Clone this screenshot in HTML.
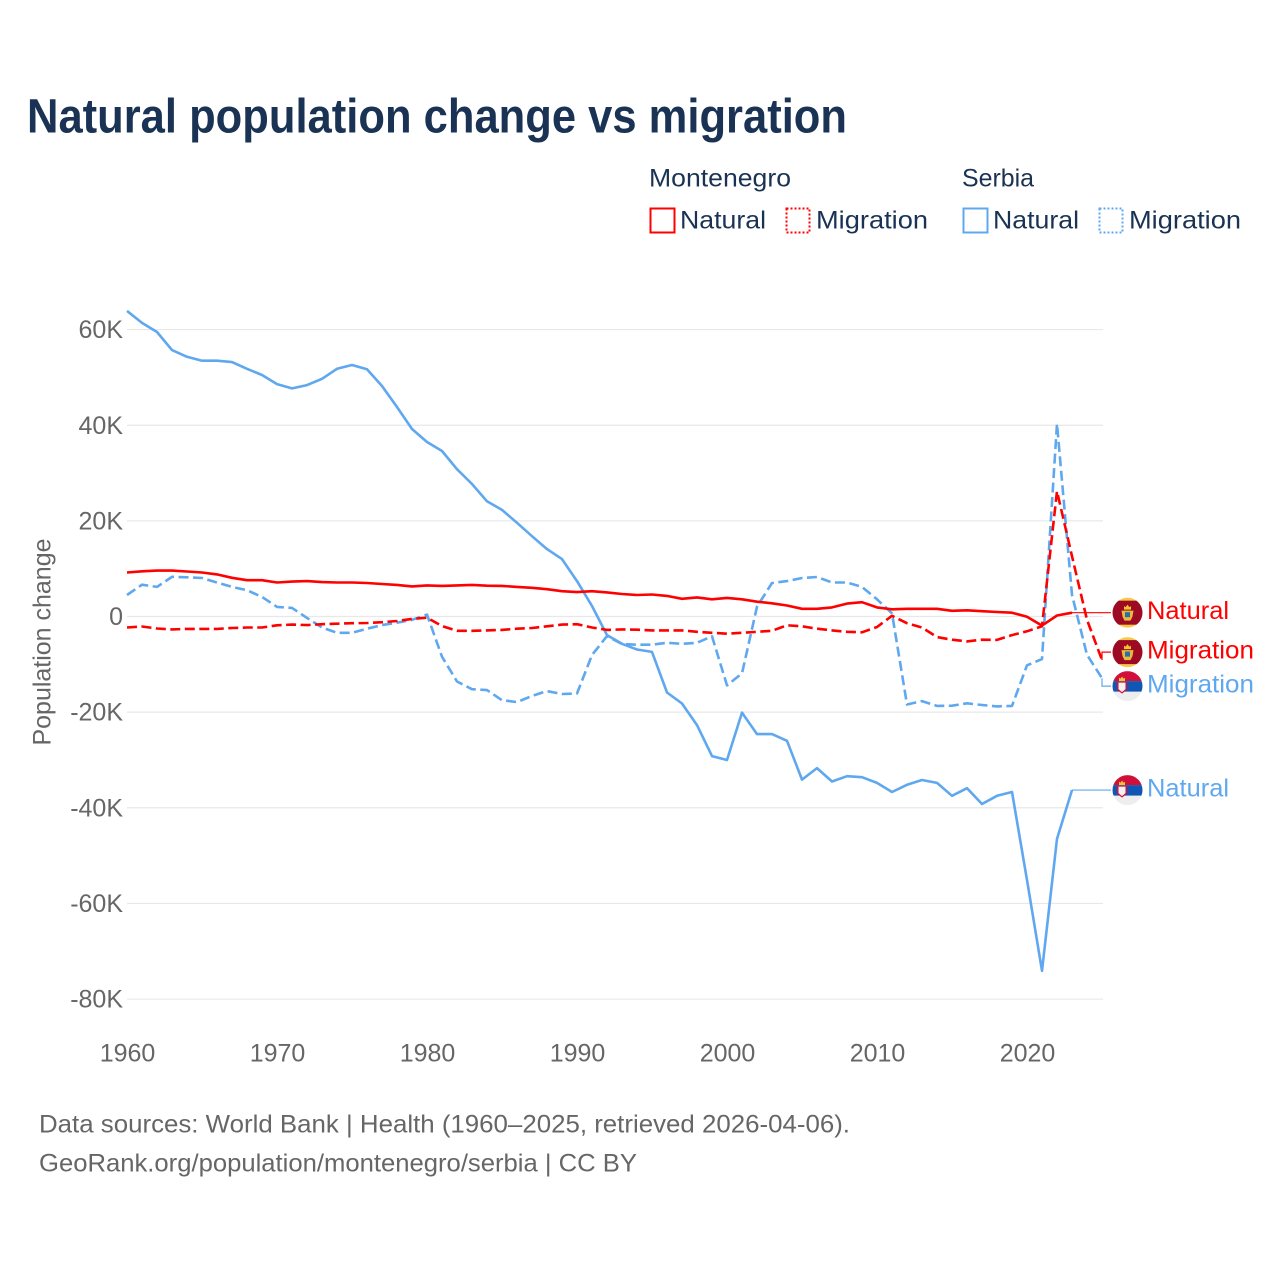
<!DOCTYPE html>
<html lang="en">
<head>
<meta charset="utf-8">
<title>Natural population change vs migration</title>
<style>
html,body{margin:0;padding:0;background:#fff;}
svg{display:block;}
text{font-family:"Liberation Sans",sans-serif;}
</style>
</head>
<body>
<svg id="chart" xmlns="http://www.w3.org/2000/svg" width="1280" height="1280" viewBox="0 0 1280 1280">
<rect x="0" y="0" width="1280" height="1280" fill="#fff"/>
<text x="27" y="132.5" font-size="48" font-weight="700" fill="#1a3354" textLength="820" lengthAdjust="spacingAndGlyphs">Natural population change vs migration</text>

<g fill="#1a3354" font-size="25">
<text x="649" y="186.5" textLength="142" lengthAdjust="spacingAndGlyphs">Montenegro</text>
<text x="962" y="186.5" textLength="72" lengthAdjust="spacingAndGlyphs">Serbia</text>
<rect x="650.5" y="208.5" width="24" height="24" fill="none" stroke="#ff0000" stroke-width="2"/>
<text x="680" y="228.5" textLength="86" lengthAdjust="spacingAndGlyphs">Natural</text>
<rect x="786.5" y="208.5" width="23" height="24" fill="none" stroke="#ff0000" stroke-width="2" stroke-dasharray="2 2"/>
<text x="816" y="228.5" textLength="112" lengthAdjust="spacingAndGlyphs">Migration</text>
<rect x="963.5" y="208.5" width="24" height="24" fill="none" stroke="#5fa8ef" stroke-width="2"/>
<text x="993" y="228.5" textLength="86" lengthAdjust="spacingAndGlyphs">Natural</text>
<rect x="1099.5" y="208.5" width="23" height="24" fill="none" stroke="#5fa8ef" stroke-width="2" stroke-dasharray="2 2"/>
<text x="1129" y="228.5" textLength="112" lengthAdjust="spacingAndGlyphs">Migration</text>
</g>

<text transform="translate(50.5 745.5) rotate(-90)" font-size="25" fill="#666" textLength="207" lengthAdjust="spacingAndGlyphs">Population change</text>

<g id="grid"></g>
<g id="yticks"></g>
<g id="xticks"></g>
<g id="series"></g>
<g id="labels"></g>

<g font-size="25" fill="#666">
<text x="39" y="1132.5" textLength="811" lengthAdjust="spacingAndGlyphs">Data sources: World Bank | Health (1960–2025, retrieved 2026-04-06).</text>
<text x="39" y="1171.5" textLength="598" lengthAdjust="spacingAndGlyphs">GeoRank.org/population/montenegro/serbia | CC BY</text>
</g>
</svg>

<script>
const startYear = 1960;
const yTickValues = [60, 40, 20, 0, -20, -40, -60, -80];
const yTickLabels = ["60K", "40K", "20K", "0", "-20K", "-40K", "-60K", "-80K"];
const xTickYears = [1960, 1970, 1980, 1990, 2000, 2010, 2020];

// Values in thousands, one per year from 1960
const montenegroNatural = [9.2,9.45,9.6,9.6,9.4,9.2,8.8,8.1,7.6,7.6,7.1,7.3,7.4,7.2,7.1,7.1,7.0,6.8,6.6,6.3,6.5,6.4,6.5,6.6,6.45,6.4,6.2,6.0,5.7,5.3,5.1,5.3,5.05,4.7,4.5,4.6,4.3,3.7,4.0,3.6,3.9,3.6,3.1,2.75,2.3,1.6,1.6,1.9,2.7,3.0,1.9,1.5,1.6,1.6,1.6,1.2,1.3,1.1,0.95,0.8,-0.05,-1.9,0.2,0.8];
const montenegroMigration = [-2.3,-2.1,-2.5,-2.7,-2.6,-2.6,-2.6,-2.4,-2.3,-2.3,-1.85,-1.7,-1.8,-1.6,-1.5,-1.4,-1.35,-1.2,-0.95,-0.5,-0.25,-2,-3,-3,-2.9,-2.8,-2.55,-2.4,-2.05,-1.7,-1.6,-2.3,-2.8,-2.7,-2.75,-2.9,-2.9,-2.9,-3.2,-3.4,-3.6,-3.4,-3.2,-3,-1.85,-2.05,-2.55,-2.9,-3.2,-3.3,-2.2,0.15,-1.4,-2.3,-4.3,-4.85,-5.2,-4.85,-4.9,-3.9,-3.1,-2.05,26.2,12.6,-0.7,-9.1];
const serbiaNatural = [63.9,61.4,59.5,55.7,54.3,53.5,53.5,53.2,51.8,50.5,48.6,47.7,48.4,49.7,51.8,52.6,51.7,48.2,43.8,39.2,36.5,34.6,30.8,27.7,24.1,22.3,19.6,16.8,14.1,12,7.4,2.2,-3.9,-5.7,-6.9,-7.4,-15.9,-18.2,-22.7,-29.2,-30,-20.1,-24.6,-24.6,-26,-34.1,-31.7,-34.5,-33.4,-33.6,-34.8,-36.7,-35.2,-34.2,-34.8,-37.5,-35.9,-39.2,-37.5,-36.7,-55.1,-74.1,-46.5,-36.3];
const serbiaMigration = [4.5,6.65,6.2,8.3,8.2,8.05,7.1,6.2,5.5,4.1,2,1.8,-0.3,-2.3,-3.4,-3.4,-2.55,-1.8,-1.3,-0.7,0.4,-8.4,-13.6,-15.2,-15.4,-17.5,-17.9,-16.6,-15.6,-16.2,-16.1,-8.05,-4.1,-5.75,-5.9,-5.9,-5.5,-5.7,-5.5,-4.15,-14.4,-11.9,2.05,7,7.4,8.05,8.25,7.1,7.1,6.2,3.6,0.65,-18.4,-17.7,-18.7,-18.65,-18.15,-18.5,-18.8,-18.7,-10.2,-8.9,40.3,4.5,-8,-12.9];

const RED = "#ff0000";
const BLUE = "#5fa8ef";
const NS = "http://www.w3.org/2000/svg";

function xScale(year) { return 127 + (year - 1960) * 15; }
function yScale(v) { return 616.5 - v * 4.782; }

function make(tag, attrs, parent) {
  const el = document.createElementNS(NS, tag);
  for (const k in attrs) el.setAttribute(k, attrs[k]);
  parent.appendChild(el);
  return el;
}

const grid = document.getElementById("grid");
const yticks = document.getElementById("yticks");
yTickValues.forEach(function (v, i) {
  const line = make("line", { x1: 127, x2: 1103, y1: yScale(v), y2: yScale(v), stroke: "#e8e8e8", "stroke-width": 1.2 }, grid);
  
  
  const t = make("text", { x: 123, y: yScale(v) + 8.6, "text-anchor": "end", "font-size": 25, fill: "#666" }, yticks);
  
  
  t.textContent = yTickLabels[i];
});

const xticks = document.getElementById("xticks");
xTickYears.forEach(function (year) {
  const t = make("text", { x: xScale(year) + 0.5, y: 1061.5, "text-anchor": "middle", "font-size": 25, fill: "#666" }, xticks);
  
  
  t.textContent = year;
});

function pathFor(values) {
  return values.map(function (v, i) {
    return (i ? "L" : "M") + xScale(startYear + i).toFixed(1) + " " + yScale(v).toFixed(1);
  }).join("");
}

const seriesGroup = document.getElementById("series");
function drawSeries(values, color, dashed) {
  const p = make("path", { d: pathFor(values), fill: "none", stroke: color, "stroke-width": 2.6, "stroke-linejoin": "round" }, seriesGroup);
  if (dashed) p.setAttribute("stroke-dasharray", "10 4.5");
  return p;
}
const lineSN = drawSeries(serbiaNatural, BLUE, false);


const lineSM = drawSeries(serbiaMigration, BLUE, true);


const lineMN = drawSeries(montenegroNatural, RED, false);


const lineMM = drawSeries(montenegroMigration, RED, true);



/* End labels: connector from the last point to a flag + label, pushed apart when close */
const endItems = [
  { values: montenegroNatural, color: RED, text: "Natural", flag: "me", width: 82 },
  { values: montenegroMigration, color: RED, text: "Migration", flag: "me", width: 107 },
  { values: serbiaMigration, color: BLUE, text: "Migration", flag: "rs", width: 107 },
  { values: serbiaNatural, color: BLUE, text: "Natural", flag: "rs", width: 82 }
];
endItems.forEach(function (d) {
  d.endX = xScale(startYear + d.values.length - 1);
  d.endY = yScale(d.values[d.values.length - 1]);
  d.labelY = d.endY;
});
const minGap = 34;
endItems.sort(function (a, b) { return a.endY - b.endY; });
for (let i = 1; i < endItems.length; i++) {
  const gap = endItems[i].labelY - endItems[i - 1].labelY;
  if (gap < minGap) {
    const shift = (minGap - gap) / 2;
    endItems[i - 1].labelY -= shift;
    endItems[i].labelY += shift;
  }
}

function drawFlag(parent, kind, cx, cy) {
  const clipId = "clip-" + kind + "-" + Math.round(cy);
  const defs = make("defs", {}, parent);
  const cp = make("clipPath", { id: clipId }, defs);
  make("circle", { cx: cx, cy: cy, r: 15 }, cp);
  const g = make("g", { "clip-path": "url(#" + clipId + ")" }, parent);
  if (kind === "me") {
    make("rect", { x: cx - 15, y: cy - 15, width: 30, height: 30, fill: "#f7c948" }, g);
    make("rect", { x: cx - 15, y: cy - 12, width: 30, height: 24, fill: "#9c0a24" }, g);
    make("path", { d: "M" + (cx - 3.5) + " " + (cy - 3) + "v-3.5l1.7 1l1.8 -2.5l1.8 2.5l1.7 -1v3.5z", fill: "#f2c230" }, g);
    make("path", { d: "M" + (cx - 6) + " " + (cy - 2) + "L" + (cx + 6) + " " + (cy - 2) + "L" + (cx + 5) + " " + (cy + 4) + "L" + (cx + 3) + " " + (cy + 8) + "L" + (cx - 3) + " " + (cy + 8) + "L" + (cx - 5) + " " + (cy + 4) + "Z", fill: "#e8b93a" }, g);
    make("rect", { x: cx - 2.5, y: cy - 0.5, width: 5, height: 5, fill: "#2a6fa8" }, g);
  } else {
    make("rect", { x: cx - 15, y: cy - 15, width: 30, height: 30, fill: "#eeeeee" }, g);
    make("rect", { x: cx - 15, y: cy - 15, width: 30, height: 10, fill: "#d0103a" }, g);
    make("rect", { x: cx - 15, y: cy - 5, width: 30, height: 10.5, fill: "#0f56b5" }, g);
    make("path", { d: "M" + (cx - 10.5) + " " + (cy - 4.5) + "h10v8l-5 4l-5 -4z", fill: "#d0103a" }, g);
    make("path", { d: "M" + (cx - 9) + " " + (cy - 3.5) + "h7v6.5l-3.5 3l-3.5 -3z", fill: "#f6f0f0" }, g);
    make("path", { d: "M" + (cx - 8.5) + " " + (cy - 5) + "v-3.5l1.5 1l1.5 -2l1.5 2l1.5 -1v3.5z", fill: "#f2c230" }, g);
  }
  return g;
}

const labelsGroup = document.getElementById("labels");
endItems.forEach(function (d) {
  const key = (d.flag === "me" ? "montenegro" : "serbia") + "-" + d.text.toLowerCase();
  let pts;
  if (Math.abs(d.labelY - d.endY) < 0.5) {
    pts = d.endX + "," + d.endY + " 1111," + d.endY;
  } else {
    pts = d.endX + "," + d.endY + " " + d.endX + "," + d.labelY + " 1111," + d.labelY;
  }
  const c = make("polyline", { points: pts, fill: "none", stroke: d.color, "stroke-width": 1.2 }, labelsGroup);
  
  
  const f = drawFlag(labelsGroup, d.flag, 1127.5, d.labelY);
  
  
  const t = make("text", { x: 1147, y: d.labelY + 6.5, "font-size": 25, fill: d.color, textLength: d.width, lengthAdjust: "spacingAndGlyphs" }, labelsGroup);
  
  
  t.textContent = d.text;
});
</script>
</body>
</html>
